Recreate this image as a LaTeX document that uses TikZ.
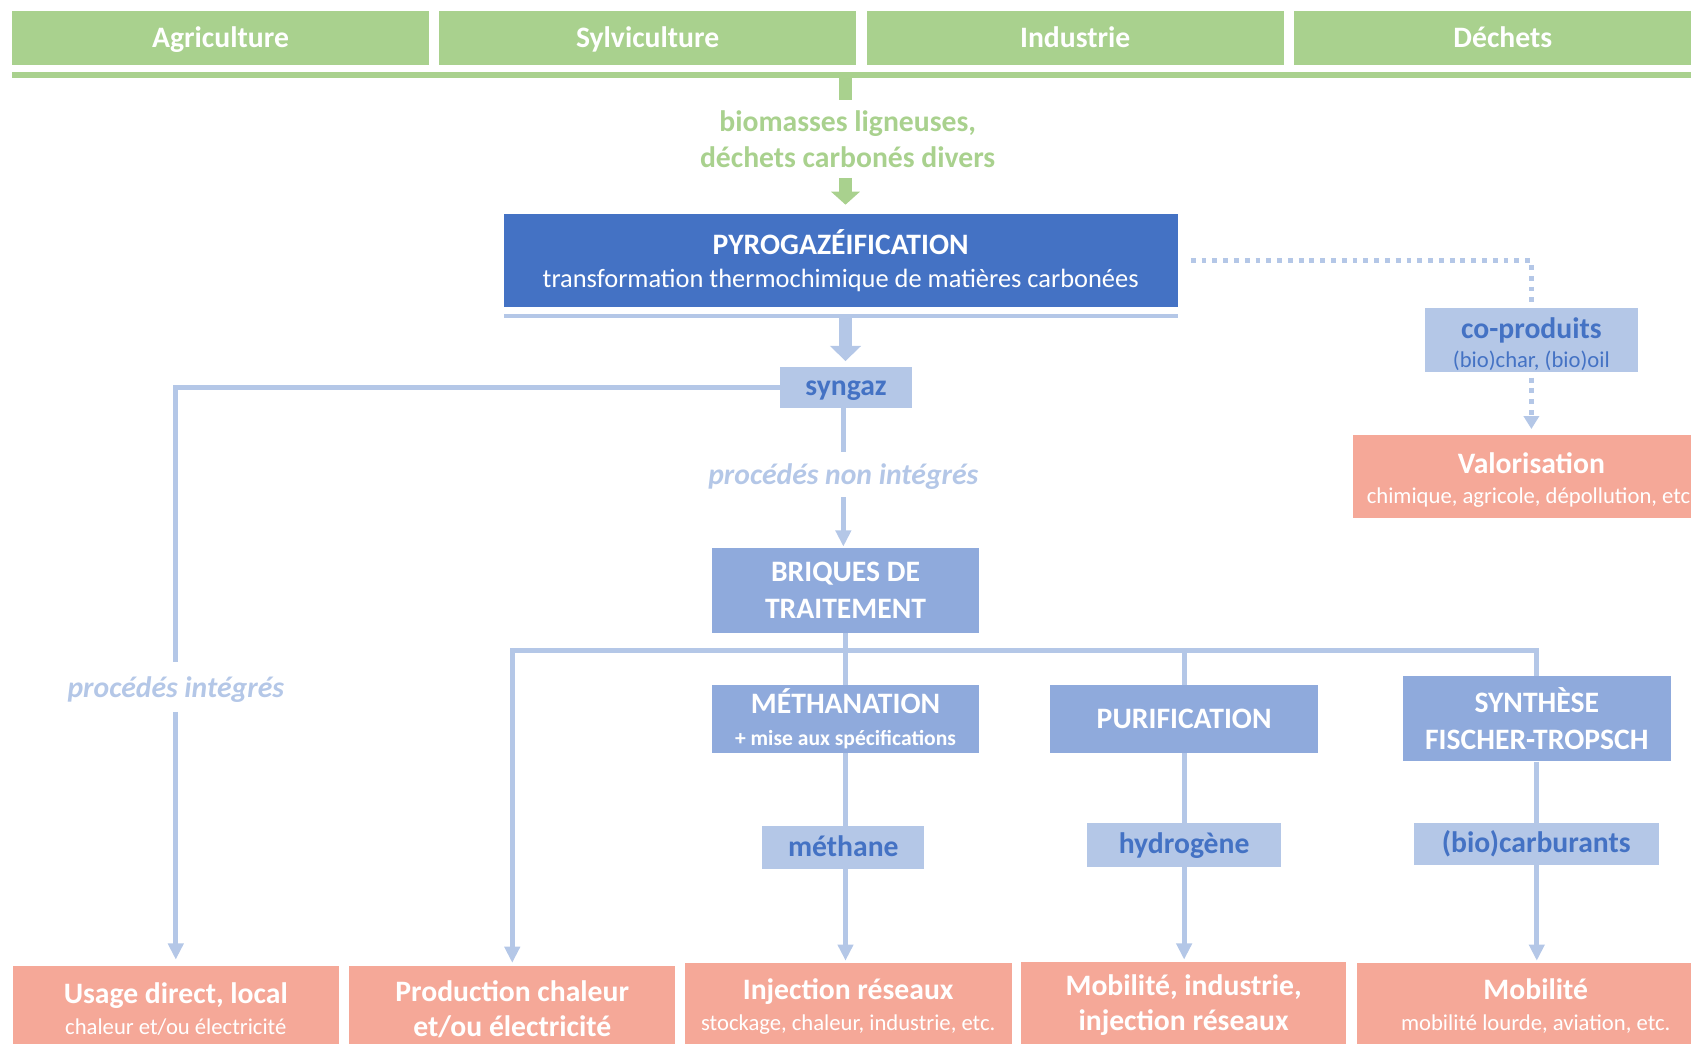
\documentclass[tikz,border=0pt]{standalone}
\usepackage{fontspec}
\setmainfont{Carlito}
\usetikzlibrary{arrows.meta}
\definecolor{cgreen}{HTML}{A9D18E}
\definecolor{cdblue}{HTML}{4472C4}
\definecolor{clblue}{HTML}{B4C7E7}
\definecolor{cmblue}{HTML}{8FAADC}
\definecolor{csalmon}{HTML}{F5A898}
\newcommand{\FL}{\fontsize{27.5}{30}\selectfont}
\tikzset{
  topbox/.style={fill=cgreen, text=white, font=\bfseries\FL, minimum width=387pt, minimum height=50pt, inner sep=0pt, text height=24pt, text depth=6pt},
  bbox/.style={inner sep=0pt, align=center},
  prodbox/.style={bbox, fill=clblue, text=cdblue, font=\bfseries\FL, text height=22pt, text depth=6pt},
  stepbox/.style={bbox, fill=cmblue, text=white, font=\bfseries\fontsize{27.5}{34}\selectfont},
  outbox/.style={bbox, fill=csalmon, text=white},
  conn/.style={draw=clblue, line width=4.5pt},
  arr/.style={conn, -{Triangle[width=14pt,length=15pt]}},
  dotline/.style={draw=clblue, line width=4.5pt, dash pattern=on 4.5pt off 5.5pt},
  gapl/.style={bbox, text=clblue, font=\bfseries\itshape\FL, inner xsep=0pt},
  gthick/.style={draw=cgreen, line width=12pt},
  bthick/.style={draw=clblue, line width=12pt},
}
\begin{document}
\begin{tikzpicture}[x=1pt,y=-1pt]
\useasboundingbox (0,0) rectangle (1568,968);
\clip (0,0) rectangle (1568,968);

% sources
\node[topbox] (agri) at (204.5,35) {Agriculture};
\node[topbox] (sylvi) at (600.5,35) {Sylviculture};
\node[topbox] (indus) at (997,35) {Industrie};
\node[topbox] (dech) at (1393.5,35) {Déchets};
\node[fill=cgreen, minimum width=1600pt, minimum height=5pt, inner sep=0pt, anchor=west] (gbar) at (11,69.5) {};

\node[bbox, text=cgreen, font=\bfseries\fontsize{27.5}{34}\selectfont] (bio) at (786,129) {biomasses ligneuses,\\déchets carbonés divers};
\coordinate (gs) at (784,93);
\coordinate (ga) at (784,165);
\draw[gthick] (gbar.south -| gs) -- (gs);

% pyrogazeification
\node[bbox, fill=cdblue, text=white, minimum width=625pt, minimum height=87pt, font=\fontsize{24.5}{31}\selectfont] (pyro) at (779.5,241.5)
  {{\bfseries\fontsize{27.5}{31}\selectfont PYROGAZÉIFICATION}\\transformation thermochimique de matières carbonées};
\draw[gthick, -{Triangle[width=26pt,length=12pt]}, shorten >=8pt] (ga) -- (ga |- pyro.north);
\node[fill=clblue, minimum width=625pt, minimum height=4pt, inner sep=0pt] (pbar) at (779.5,293) {};

% syngaz
\node[prodbox, minimum width=123pt, minimum height=38pt] (syngaz) at (784.5,359) {syngaz};
\coordinate (sa) at (784,295);
\draw[bthick, -{Triangle[width=28pt,length=14pt]}, shorten >=5pt] (sa) -- (sa |- syngaz.north);

% co-produits
\node[bbox, fill=clblue, text=cdblue, minimum width=198pt, minimum height=59pt, font=\fontsize{21}{27}\selectfont] (coprod) at (1420,315.5)
  {{\bfseries\fontsize{27.5}{27}\selectfont\rule{0pt}{26pt}co-produits}\\(bio)char, (bio)oil};
\node[outbox, minimum width=330pt, minimum height=77pt, font=\fontsize{21}{28}\selectfont] (valo) at (1420,441.5)
  {{\bfseries\fontsize{27.5}{28}\selectfont\rule{0pt}{26pt}Valorisation}\\chimique, agricole, dépollution, etc.};
\draw[dotline, shorten >=6pt] ([xshift=12pt]pyro.east) -| (coprod.north);
\draw[dotline, -{Triangle[width=14pt,length=12pt]}, shorten <=5pt, shorten >=5pt] (coprod.south) -- (valo.north);

% non integres
\node[gapl, inner ysep=8pt, text height=22pt, text depth=4pt] (pni) at (782,440) {procédés non intégrés};
\node[stepbox, minimum width=248pt, minimum height=79pt] (briques) at (784,547.5) {BRIQUES DE\\TRAITEMENT};
\draw[conn] (syngaz.south -| pni) -- (pni.north);
\draw[arr, shorten >=1pt] (pni.south) -- (pni.south |- briques.north);

% integres
\node[gapl, inner ysep=10pt, text height=23pt, text depth=3pt] (pint) at (163,637) {procédés intégrés};

% treatment steps
\node[stepbox, minimum width=248pt, minimum height=63pt, font=\bfseries\fontsize{20}{29}\selectfont] (meth) at (784,666.5)
  {{\fontsize{27.5}{29}\selectfont MÉTHANATION}\\+ mise aux spécifications};
\node[stepbox, minimum width=248pt, minimum height=63pt] (purif) at (1098,666.5) {PURIFICATION};
\node[stepbox, minimum width=248pt, minimum height=79pt] (synth) at (1425,666.5) {SYNTHÈSE\\FISCHER-TROPSCH};

\node[prodbox, minimum width=150pt, minimum height=40pt] (methane) at (782,786) {méthane};
\node[prodbox, minimum width=180pt, minimum height=41pt] (hydro) at (1098,783.5) {hydrogène};
\node[prodbox, minimum width=227pt, minimum height=39pt] (biocarb) at (1424.5,782.5) {(bio)carburants};

% outputs
\node[outbox, minimum width=302pt, minimum height=80pt, font=\fontsize{21}{29}\selectfont] (usage) at (163,936)
  {{\bfseries\fontsize{27.5}{29}\selectfont Usage direct, local}\\chaleur et/ou électricité};
\node[outbox, font=\bfseries\fontsize{27.5}{33}\selectfont, minimum width=302pt, minimum height=80pt] (prod) at (475,936)
  {Production chaleur\\et/ou électricité};
\node[outbox, minimum width=303pt, minimum height=80pt, font=\fontsize{21}{29}\selectfont] (inj) at (786.5,933)
  {{\bfseries\fontsize{27.5}{29}\selectfont Injection réseaux}\\stockage, chaleur, industrie, etc.};
\node[outbox, font=\bfseries\fontsize{27.5}{33}\selectfont, minimum width=301pt, minimum height=80pt] (mob1) at (1097.5,932)
  {Mobilité, industrie,\\injection réseaux};
\node[outbox, minimum width=332pt, minimum height=80pt, font=\fontsize{21}{29}\selectfont] (mob2) at (1424,933)
  {{\bfseries\fontsize{27.5}{29}\selectfont Mobilité}\\mobilité lourde, aviation, etc.};

% connectors
\draw[conn] (syngaz.west) -| (pint.north);
\draw[arr, shorten >=6pt] (pint.south) -- (usage.north);

\coordinate (j) at (784,603);
\draw[conn] (briques.south) -- (meth.north);
\draw[arr, shorten >=3pt] (j) -| (prod.north);
\draw[conn] (j) -| (synth.north);
\draw[conn] (j -| purif) -- (purif.north);

\draw[conn] (meth.south) -- (meth.south |- methane.north);
\draw[arr, shorten >=2pt] (methane.south -| meth) -- (meth |- inj.north);
\draw[conn] (purif.south) -- (hydro.north);
\draw[arr, shorten >=2pt] (hydro.south) -- (hydro.south |- mob1.north);
\draw[conn] (synth.south) -- (synth.south |- biocarb.north);
\draw[arr, shorten >=2pt] (biocarb.south -| synth) -- (synth |- mob2.north);
\end{tikzpicture}
\end{document}
